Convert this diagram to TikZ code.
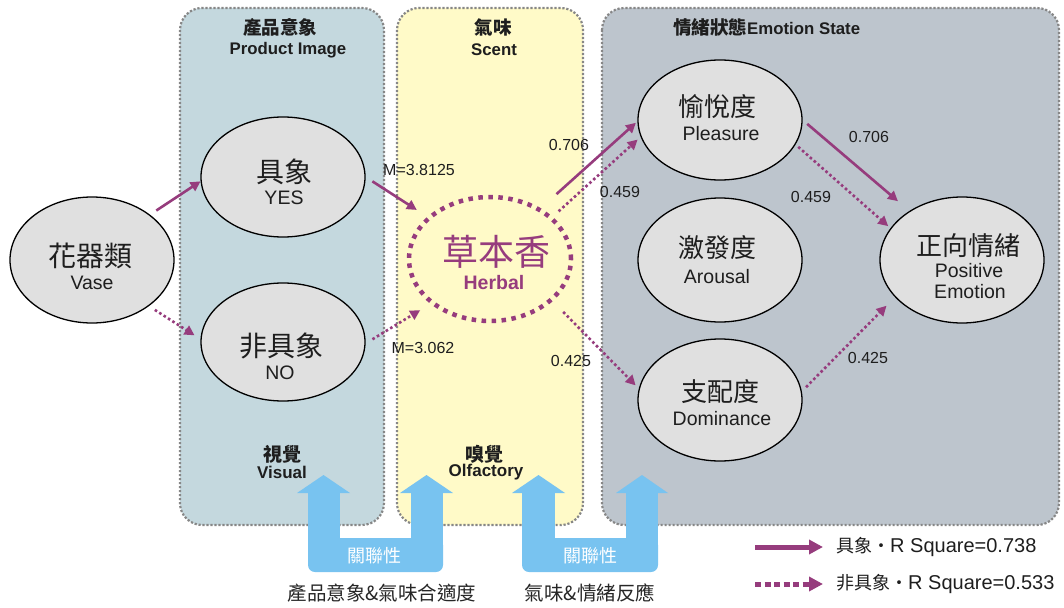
\documentclass[tikz,border=0pt]{standalone}
\usepackage{fontspec}
\setmainfont{Liberation Sans}
\newfontfamily\cjk{Noto Sans CJK TC}
\usetikzlibrary{shapes.geometric,arrows.meta}

\definecolor{pur}{RGB}{150,60,125}
\definecolor{pimg}{RGB}{196,216,222}
\definecolor{scentc}{RGB}{255,250,200}
\definecolor{emoc}{RGB}{189,197,205}
\definecolor{ellc}{RGB}{224,224,224}
\definecolor{sky}{RGB}{120,195,240}
\definecolor{dotc}{RGB}{135,135,135}
\definecolor{txt}{RGB}{30,30,30}

\tikzset{
  panel/.style={draw=dotc, line width=2.2pt, dash pattern=on 2.2pt off 1.8pt, rounded corners=22pt},
  ov/.style={ellipse, draw=black, line width=1.3pt, fill=ellc, inner sep=0pt, minimum width=164pt},
  solidarr/.style={draw=pur, line width=2.6pt, -{Triangle[length=10pt,width=10pt]}},
  dotarr/.style={draw=pur, line width=2.6pt, dash pattern=on 2.6pt off 2.6pt, -{Triangle[length=10pt,width=10pt]}},
  tx/.style={inner sep=0pt, text=txt},
  cjkbig/.style={tx, font=\cjk\fontsize{28}{30}\selectfont},
  cjkmid/.style={tx, font=\cjk\fontsize{26}{28}\selectfont},
  entx/.style={tx, font=\fontsize{19.5}{21}\selectfont},
  numtx/.style={tx, font=\fontsize{16}{18}\selectfont},
  ttlcjk/.style={tx, font=\cjk\bfseries\fontsize{18.5}{20}\selectfont},
  ttlen/.style={tx, font=\bfseries\fontsize{16.8}{18}\selectfont},
  captx/.style={tx, font=\cjk\fontsize{19.5}{21}\selectfont, text=black!85},
  reltx/.style={inner sep=0pt, text=white, font=\cjk\fontsize{18}{20}\selectfont},
  legtx/.style={tx, anchor=west, font=\fontsize{20}{22}\selectfont},
}

\begin{document}
\begin{tikzpicture}[x=1pt,y=-1pt]
\useasboundingbox (0,0) rectangle (1064,607);

% panels
\draw[panel, fill=pimg] (180,8) rectangle (384,525);
\draw[panel, fill=scentc] (397,8) rectangle (583,525);
\draw[panel, fill=emoc] (602,8) rectangle (1059,525);

% panel titles
\node[ttlcjk] (t1) at (280,27) {產品意象};
\node[ttlen] (t1e) at (288,50) {Product Image};
\node[ttlcjk] (t2) at (493,27) {氣味};
\node[ttlen] (t2e) at (494,50) {Scent};
\node[ttlen, anchor=west] (t3) at (673,27) {{\cjk\fontsize{18.5}{20}\selectfont 情緒狀態}Emotion State};

% bottom panel labels
\node[ttlcjk, font=\cjk\bfseries\fontsize{19}{21}\selectfont] (v1) at (282,454) {視覺};
\node[ttlen, font=\bfseries\fontsize{17}{19}\selectfont] (v2) at (282,472) {Visual};
\node[ttlcjk, font=\cjk\bfseries\fontsize{19}{21}\selectfont] (o1) at (484,454) {嗅覺};
\node[ttlen, font=\bfseries\fontsize{17}{19}\selectfont] (o2) at (486,472) {Olfactory};

% blue U arrows (left)
\fill[sky, rounded corners=7pt] (308,538) rectangle (443,572);
\fill[sky] (308,492) rectangle (340,556);
\fill[sky] (411,492) rectangle (443,556);
\fill[sky] (297,493) -- (323.5,475) -- (350,493) -- cycle;
\fill[sky] (400,493) -- (426.5,475) -- (453,493) -- cycle;
% blue U arrows (right)
\fill[sky, rounded corners=7pt] (522,538) rectangle (658,572);
\fill[sky] (522,492) rectangle (555,556);
\fill[sky] (626,492) rectangle (658,556);
\fill[sky] (512,493) -- (538.5,475) -- (565,493) -- cycle;
\fill[sky] (616,493) -- (642,475) -- (668,493) -- cycle;
\node[reltx] (r1) at (374,556) {關聯性};
\node[reltx] (r2) at (590,556) {關聯性};

% captions
\node[captx] (c1) at (382,593) {產品意象\&氣味合適度};
\node[captx] (c2) at (590,593) {氣味\&情緒反應};

% ellipses
\node[ov, minimum height=126pt] (vase) at (92,260) {};
\node[ov, minimum height=120pt] (yes) at (283,177) {};
\node[ov, minimum height=118pt] (no) at (283,342) {};
\node[ellipse, draw=pur, line width=4.5pt, dash pattern=on 4.5pt off 5.5pt, inner sep=0pt,
      minimum width=162pt, minimum height=124pt] (herb) at (490,259) {};
\node[ov, minimum height=120pt] (plea) at (720,120) {};
\node[ov, minimum height=124pt] (aro) at (720,260) {};
\node[ov, minimum height=122pt] (dom) at (720,400) {};
\node[ov, minimum height=126pt] (pos) at (962,260) {};

% ellipse texts
\node[cjkbig] (vaseA) at (90,256) {花器類};
\node[entx] (vaseB) at (92,283) {Vase};
\node[cjkbig] (yesA) at (284,172) {具象};
\node[entx] (yesB) at (284,198) {YES};
\node[cjkbig] (noA) at (281,346) {非具象};
\node[entx] (noB) at (280,373) {NO};
\node[tx, text=pur, font=\cjk\fontsize{36}{38}\selectfont] (herbA) at (496,252) {草本香};
\node[tx, text=pur, font=\bfseries\fontsize{19.5}{21}\selectfont] (herbB) at (494,283) {Herbal};
\node[cjkmid] (pleaA) at (717,107) {愉悅度};
\node[entx] (pleaB) at (721,134) {Pleasure};
\node[cjkmid] (aroA) at (717,248) {激發度};
\node[entx] (aroB) at (717,277) {Arousal};
\node[cjkmid] (domA) at (720,392) {支配度};
\node[entx] (domB) at (722,419) {Dominance};
\node[cjkmid] (posA) at (968,246) {正向情緒};
\node[entx] (posB) at (969,271) {Positive};
\node[entx] (posC) at (970,292) {Emotion};

% connectors
\draw[solidarr, shorten <=7.5pt] (vase.38.4) -- (yes.183.3);
\draw[dotarr, shorten <=7pt, shorten >=7pt] (vase.-39.9) -- (no.178.7);
\draw[solidarr, shorten <=8pt, shorten >=12.5pt] (yes.-0.6) -- (herb.146.1);
\draw[dotarr, shorten <=8pt, shorten >=12pt] (no.-1.9) -- (herb.217.9);
\draw[solidarr, shorten <=21pt, shorten >=2pt] (herb.45.4) -- (plea.181.4);
\draw[dotarr, shorten <=8pt, shorten >=4pt] (herb.34.3) -- (plea.192.2);
\draw[dotarr, shorten <=15pt, shorten >=4.5pt] (herb.-34.2) -- (dom.172);
\draw[solidarr, shorten <=6pt, shorten >=15pt] (plea.-0.7) -- (pos.137.8);
\draw[dotarr, shorten <=3.5pt, shorten >=3pt] (plea.-18.4) -- (pos.156.6);
\draw[dotarr, shorten <=6pt, shorten >=12pt] (dom.6.6) -- (pos.209.2);

% numeric labels
\node[numtx] (m1) at (419,170) {M=3.8125};
\node[numtx] (m2) at (423,348) {M=3.062};
\node[numtx] (n1) at (569,145) {0.706};
\node[numtx] (n2) at (620,192) {0.459};
\node[numtx] (n3) at (571,361) {0.425};
\node[numtx] (n4) at (869,137) {0.706};
\node[numtx] (n5) at (811,197) {0.459};
\node[numtx] (n6) at (868,358) {0.425};

% legend
\coordinate (l1a) at (755,547);
\coordinate (l1b) at (823,547);
\coordinate (l2a) at (755,584);
\coordinate (l2b) at (823,584);
\draw[draw=pur, line width=5pt, -{Triangle[length=14pt,width=14pt]}] (l1a) -- (l1b);
\draw[draw=pur, line width=5pt, dash pattern=on 6pt off 3.5pt, -{Triangle[length=14pt,width=14pt]}] (l2a) -- (l2b);
\node[legtx] (lt1) at (836,547) {{\cjk\fontsize{18}{20}\selectfont 具象・}R Square=0.738};
\node[legtx] (lt2) at (836,584) {{\cjk\fontsize{18}{20}\selectfont 非具象・}R Square=0.533};
\end{tikzpicture}
\end{document}
